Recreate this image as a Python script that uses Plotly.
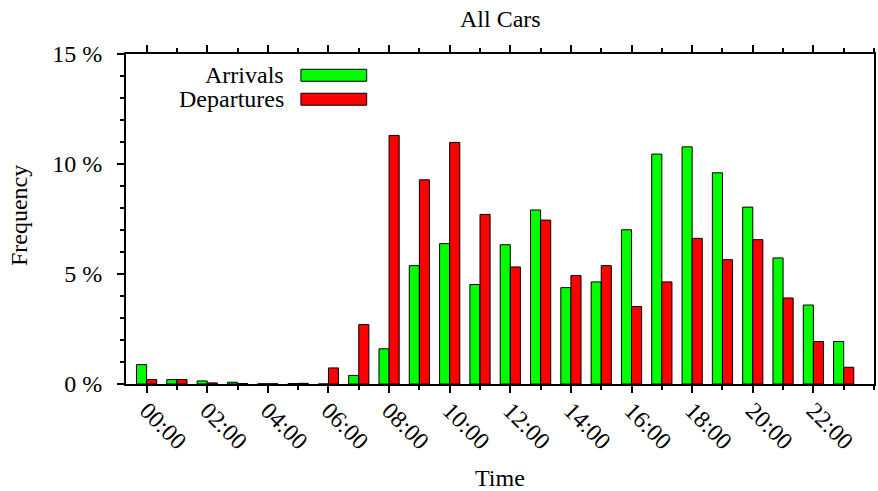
import plotly.graph_objects as go

hours = list(range(24))
arrivals = [0.88, 0.20, 0.14, 0.08, 0.01, 0.02, 0.0, 0.39, 1.60, 5.38, 6.38, 4.52,
            6.33, 7.91, 4.38, 4.64, 7.01, 10.45, 10.78, 9.60, 8.04, 5.73, 3.59, 1.93]
departures = [0.20, 0.20, 0.05, 0.02, 0.01, 0.03, 0.73, 2.70, 11.30, 9.28, 10.98, 7.71,
              5.32, 7.45, 4.93, 5.38, 3.52, 4.64, 6.62, 5.65, 6.56, 3.91, 1.93, 0.76]
tick_hours = list(range(0, 24, 2))
tick_labels = ["%02d:00" % h for h in tick_hours]
y_ticks = [0, 5, 10, 15]
y_labels = ["0 %", "5 %", "10 %", "15 %"]

W, H = 878, 491
L, R, T, B = 126, 876.5, 54, 384.5
FONT = "Liberation Serif"
FS = 24


def px(x):
    return (x - L) / (R - L)


def py(y):
    return (B - y) / (B - T)


fig = go.Figure()
fig.add_trace(go.Bar(x=hours, y=arrivals, name="Arrivals",
                     marker=dict(color="#00ff00", line=dict(color="black", width=1))))
fig.add_trace(go.Bar(x=hours, y=departures, name="Departures",
                     marker=dict(color="#ff0000", line=dict(color="black", width=1))))

# manual legend (text left, swatch right)
legend_items = [("Arrivals", "#00ff00", 75.3), ("Departures", "#ff0000", 99.3)]
annotations = []
shapes = []
for name, color, yc in legend_items:
    annotations.append(dict(text=name, x=px(287), y=py(yc), xref="paper", yref="paper",
                            xanchor="right", yanchor="middle", showarrow=False,
                            font=dict(family=FONT, size=FS, color="black")))
    shapes.append(dict(type="rect", xref="paper", yref="paper",
                       x0=px(301.5), x1=px(367.5), y0=py(yc - 6), y1=py(yc + 6),
                       fillcolor=color, line=dict(color="black", width=1)))

annotations.append(dict(text="All Cars", x=0.5, y=py(19), xref="paper", yref="paper",
                        xanchor="center", yanchor="middle", showarrow=False,
                        font=dict(family=FONT, size=FS, color="black")))
annotations.append(dict(text="Time", x=0.5, y=py(478.5), xref="paper", yref="paper",
                        xanchor="center", yanchor="middle", showarrow=False,
                        font=dict(family=FONT, size=FS, color="black")))
annotations.append(dict(text="Frequency", x=px(18), y=py(216), xref="paper", yref="paper",
                        xanchor="center", yanchor="middle", showarrow=False, textangle=-90,
                        font=dict(family=FONT, size=FS, color="black")))

fig.update_layout(
    width=W, height=H,
    margin=dict(l=L, r=W - R, t=T, b=H - B, pad=0),
    paper_bgcolor="white", plot_bgcolor="white",
    barmode="group", bargap=1 / 3, bargroupgap=0,
    showlegend=False,
    font=dict(family=FONT, size=FS, color="black"),
    annotations=annotations, shapes=shapes,
)
fig.update_xaxes(
    range=[-0.68, 24.0], tickvals=tick_hours, ticktext=tick_labels, tickangle=45,
    ticks="outside", ticklen=7, tickwidth=2, tickcolor="black",
    minor=dict(dtick=1, tick0=0, ticks="outside", ticklen=4, tickwidth=2, tickcolor="black"),
    showline=True, linecolor="black", linewidth=2, mirror="allticks",
    showgrid=False, zeroline=False, ticklabelstandoff=-6,
    tickfont=dict(family=FONT, size=FS, color="black"),
)
fig.update_yaxes(
    range=[0, 15], tickvals=y_ticks, ticktext=y_labels,
    ticks="outside", ticklen=7, tickwidth=2, tickcolor="black",
    minor=dict(dtick=1, ticks="outside", ticklen=4, tickwidth=2, tickcolor="black"),
    showline=True, linecolor="black", linewidth=2, mirror=True,
    showgrid=False, zeroline=False, ticklabelstandoff=10,
    tickfont=dict(family=FONT, size=FS, color="black"),
)
fig.write_html("out.html")
